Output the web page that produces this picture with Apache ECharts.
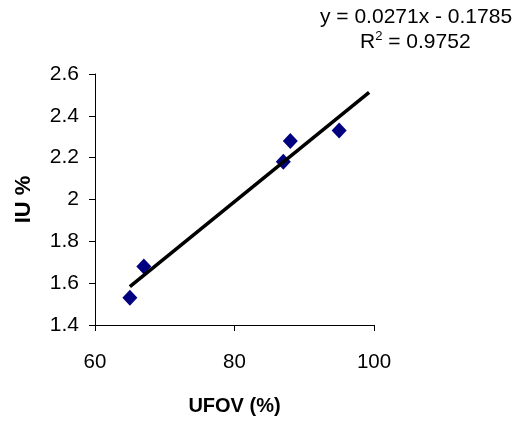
<!DOCTYPE html>
<html>
<head>
<meta charset="utf-8">
<script src="https://cdn.jsdelivr.net/npm/echarts@6/dist/echarts.min.js"></script>
<style>
html,body{margin:0;padding:0;background:#fff;}
#chart{width:526px;height:426px;}
</style>
</head>
<body>
<div id="chart"></div>
<script>
// Data
const ufov = [65, 67, 87, 88, 95];
const iu = [1.53, 1.68, 2.18, 2.28, 2.33];
const trendSlope = 0.0271;
const trendIntercept = -0.1785;
const trendXRange = [65, 99.3];
const xTicks = [60, 80, 100];
const yTicks = [1.4, 1.6, 1.8, 2, 2.2, 2.4, 2.6];
const equationText = 'y = 0.0271x - 0.1785';
const r2Value = '0.9752';

const points = ufov.map((x, i) => [x, iu[i]]);
const trend = trendXRange.map(x => [x, trendSlope * x + trendIntercept]);

const FONT = '"Liberation Sans", Arial, sans-serif';
const chart = echarts.init(document.getElementById('chart'), null, {renderer: 'canvas'});
chart.setOption({
  animation: false,
  backgroundColor: '#ffffff',
  grid: {left: 95, right: 152, top: 74, bottom: 101, containLabel: false},
  xAxis: {
    type: 'value',
    min: xTicks[0], max: xTicks[xTicks.length - 1], interval: 20,
    name: 'UFOV (%)', nameLocation: 'middle', nameGap: 71,
    nameTextStyle: {fontFamily: FONT, fontSize: 20, fontWeight: 'bold', color: '#000'},
    axisLine: {lineStyle: {color: '#000', width: 1}},
    axisTick: {show: true, inside: false, length: 6, lineStyle: {color: '#000'}},
    axisLabel: {fontFamily: FONT, fontSize: 20.5, color: '#000', margin: 27},
    splitLine: {show: false}
  },
  yAxis: {
    type: 'value',
    min: yTicks[0], max: yTicks[yTicks.length - 1], interval: 0.2,
    name: 'IU %', nameLocation: 'middle', nameGap: 60, nameRotate: 90,
    nameTextStyle: {fontFamily: FONT, fontSize: 22, fontWeight: 'bold', color: '#000'},
    axisLine: {show: true, lineStyle: {color: '#000', width: 1}},
    axisTick: {show: true, inside: false, length: 6, lineStyle: {color: '#000'}},
    axisLabel: {fontFamily: FONT, fontSize: 21, color: '#000', margin: 16,
      formatter: v => String(Math.round(v * 10) / 10)},
    splitLine: {show: false}
  },
  series: [
    {
      type: 'line',
      data: trend,
      symbol: 'none',
      lineStyle: {color: '#000', width: 3.5},
      z: 3,
      silent: true
    },
    {
      type: 'scatter',
      data: points,
      symbol: 'diamond',
      symbolSize: [15, 16],
      itemStyle: {color: '#000080', opacity: 1},
      z: 2
    }
  ],
  graphic: [
    {
      type: 'text', left: 320, top: 7,
      style: {text: equationText, font: '21px ' + FONT, fill: '#000'}
    },
    {
      type: 'text', left: 360, top: 30,
      style: {
        text: '{r|R}{s|2}{r| = ' + r2Value + '}',
        rich: {
          r: {font: '21px ' + FONT, fill: '#000', verticalAlign: 'bottom'},
          s: {font: '13px ' + FONT, fill: '#000', verticalAlign: 'top', padding: [0, 0, 10, 0]}
        }
      }
    }
  ]
});
</script>
</body>
</html>
